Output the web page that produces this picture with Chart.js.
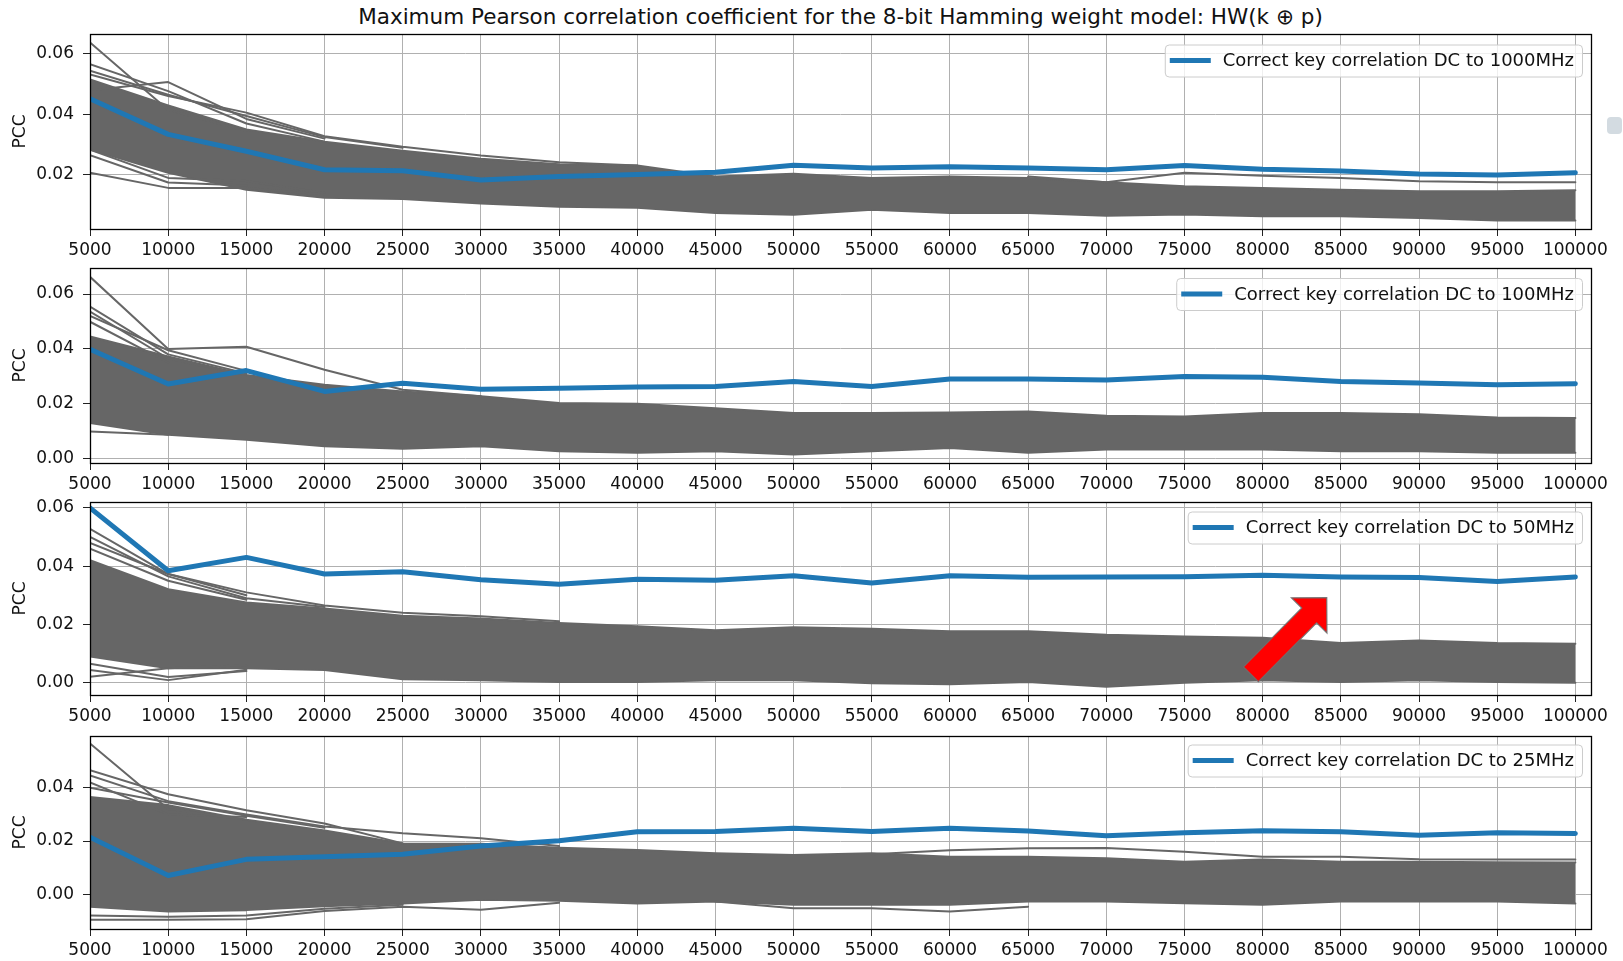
<!DOCTYPE html>
<html>
<head>
<meta charset="utf-8">
<script src="https://cdn.jsdelivr.net/npm/chart.js@4.4.1/dist/chart.umd.min.js"></script>
<style>
  html, body { margin: 0; padding: 0; background: #fff; }
  body { width: 1623px; height: 961px; position: relative; overflow: hidden; font-family: "DejaVu Sans", sans-serif; }
  #title { position: absolute; left: 90px; width: 1501px; top: 3px; text-align: center; font-size: 21.5px; line-height: 28px; color: #111; white-space: nowrap; }
  canvas { position: absolute; left: 0; }
  #blob { position: absolute; left: 1607px; top: 117px; width: 15px; height: 17px; background: #d3dbe1; border-radius: 4px; }
</style>
</head>
<body>
<div id="title">Maximum Pearson correlation coefficient for the 8-bit Hamming weight model: HW(k ⊕ p)</div>
<canvas id="c1"></canvas>
<canvas id="c2"></canvas>
<canvas id="c3"></canvas>
<canvas id="c4"></canvas>
<div id="blob"></div>
<script>
// Number of traces used for each correlation estimate (x axis)
const traceCounts = [5000, 10000, 15000, 20000, 25000, 30000, 35000, 40000, 45000, 50000,
                     55000, 60000, 65000, 70000, 75000, 80000, 85000, 90000, 95000, 100000];

// Correct key correlation, one series per filter bandwidth
const correctKey1000 = [0.0452, 0.0334, 0.0278, 0.0217, 0.0214, 0.0183, 0.0195, 0.0201, 0.0209, 0.0232,
                        0.0223, 0.0227, 0.0223, 0.0217, 0.0231, 0.0219, 0.0213, 0.0203, 0.0200, 0.0207];
const correctKey100  = [0.0399, 0.0272, 0.0321, 0.0245, 0.0275, 0.0253, 0.0257, 0.0261, 0.0263, 0.0281,
                        0.0263, 0.0290, 0.0290, 0.0287, 0.0299, 0.0297, 0.0281, 0.0276, 0.0269, 0.0273];
const correctKey50   = [0.0600, 0.0384, 0.0430, 0.0373, 0.0381, 0.0353, 0.0338, 0.0355, 0.0352, 0.0367,
                        0.0342, 0.0367, 0.0362, 0.0363, 0.0364, 0.0369, 0.0363, 0.0361, 0.0347, 0.0363];
const correctKey25   = [0.0214, 0.0070, 0.0131, 0.0141, 0.0150, 0.0181, 0.0201, 0.0235, 0.0236, 0.0248,
                        0.0236, 0.0248, 0.0238, 0.0220, 0.0231, 0.0239, 0.0235, 0.0222, 0.0231, 0.0228];

// Wrong key guesses: upper / lower edge of the dense bundle
const wrong1000Upper = [0.0516, 0.0430, 0.0350, 0.0310, 0.0280, 0.0253, 0.0235, 0.0231, 0.0195, 0.0204,
                        0.0190, 0.0195, 0.0190, 0.0176, 0.0162, 0.0157, 0.0151, 0.0146, 0.0146, 0.0149];
const wrong1000Lower = [0.0284, 0.0207, 0.0151, 0.0124, 0.0120, 0.0105, 0.0095, 0.0091, 0.0074, 0.0068,
                        0.0085, 0.0074, 0.0074, 0.0065, 0.0069, 0.0063, 0.0063, 0.0057, 0.0049, 0.0049];
const wrong100Upper  = [0.0445, 0.0372, 0.0305, 0.0269, 0.0245, 0.0227, 0.0203, 0.0200, 0.0184, 0.0166,
                        0.0166, 0.0168, 0.0172, 0.0156, 0.0154, 0.0166, 0.0166, 0.0162, 0.0150, 0.0148];
const wrong100Lower  = [0.0130, 0.0087, 0.0069, 0.0045, 0.0036, 0.0045, 0.0027, 0.0021, 0.0027, 0.0015,
                        0.0027, 0.0039, 0.0021, 0.0033, 0.0033, 0.0033, 0.0027, 0.0027, 0.0021, 0.0021];
const wrong50Upper   = [0.0420, 0.0321, 0.0275, 0.0255, 0.0230, 0.0220, 0.0205, 0.0194, 0.0180, 0.0190,
                        0.0185, 0.0177, 0.0177, 0.0165, 0.0159, 0.0154, 0.0136, 0.0145, 0.0136, 0.0134];
const wrong50Lower   = [0.0090, 0.0050, 0.0050, 0.0044, 0.0012, 0.0009, 0.0003, 0.0003, 0.0009, 0.0009,
                        -0.0002, -0.0005, 0.0003, -0.0014, 0.0000, 0.0009, 0.0003, 0.0009, 0.0003, 0.0000];
const wrong25Upper   = [0.0366, 0.0335, 0.0280, 0.0240, 0.0191, 0.0190, 0.0175, 0.0166, 0.0154, 0.0147,
                        0.0154, 0.0141, 0.0141, 0.0135, 0.0122, 0.0130, 0.0122, 0.0122, 0.0120, 0.0119];
const wrong25Lower   = [-0.0047, -0.0065, -0.0060, -0.0045, -0.0035, -0.0021, -0.0025, -0.0035, -0.0028, -0.0040,
                        -0.0040, -0.0040, -0.0028, -0.0028, -0.0034, -0.0040, -0.0028, -0.0028, -0.0028, -0.0035];

// Individual wrong-key traces that leave the bundle (null = hidden inside it)
const wrong1000Stray = [
  [0.0638, 0.0415, 0.0345],
  [0.0480, 0.0507, 0.0385, 0.0320],
  [0.0566, 0.0477, 0.0370, 0.0310],
  [0.0545, 0.0465, 0.0395, 0.0325, 0.0290],
  [0.0532, 0.0461, 0.0406, 0.0328, 0.0293, 0.0264, 0.0242, 0.0231],
  [0.0207, 0.0157, 0.0157, 0.0135],
  [0.0283, 0.0190, 0.0180, 0.0140],
  [0.0265, 0.0175, 0.0165],
  [null, null, null, null, null, null, null, null, null, null, null, null,
   0.0195, 0.0176, 0.0207, 0.0197, 0.0190, 0.0179, 0.0176, 0.0176]
];
const wrong100Stray = [
  [0.0663, 0.0400, 0.0408, 0.0324, 0.0251, 0.0227],
  [0.0554, 0.0380, 0.0310],
  [0.0536, 0.0365, 0.0305],
  [0.0520, 0.0395, 0.0320],
  [0.0499, 0.0350],
  [0.0099, 0.0087]
];
const wrong50Stray = [
  [0.0528, 0.0373, 0.0310, 0.0265, 0.0240, 0.0228, 0.0211],
  [0.0500, 0.0365, 0.0290, 0.0260],
  [0.0480, 0.0373, 0.0300],
  [0.0460, 0.0350, 0.0285],
  [0.0044, 0.0009, 0.0045],
  [0.0021, 0.0050, 0.0060],
  [0.0065, 0.0020, 0.0040]
];
const wrong25Stray = [
  [0.0567, 0.0320, 0.0280],
  [0.0466, 0.0376, 0.0316, 0.0266, 0.0191],
  [0.0447, 0.0350, 0.0300, 0.0255, 0.0229, 0.0210, 0.0181],
  [0.0420, 0.0300, 0.0290],
  [0.0400, 0.0345, 0.0295, 0.0250],
  [-0.0096, -0.0096, -0.0094, -0.0063, -0.0047, -0.0059, -0.0032],
  [-0.0080, -0.0085, -0.0080, -0.0055, -0.0040],
  [null, null, null, null, null, null, null, null, null, null,
   0.0150, 0.0165, 0.0173, 0.0174, 0.0160, 0.0141, 0.0141, 0.0131, 0.0130, 0.0130],
  [null, null, null, null, null, null, null, null, -0.0028, -0.0053, -0.0053, -0.0065, -0.0047]
];

// Y tick labels per panel
const yTicks1000 = [0.02, 0.04, 0.06];
const yTicks100  = [0.00, 0.02, 0.04, 0.06];
const yTicks50   = [0.00, 0.02, 0.04, 0.06];
const yTicks25   = [0.00, 0.02, 0.04];

// Legend captions
const legendLabels = ['Correct key correlation DC to 1000MHz', 'Correct key correlation DC to 100MHz',
                      'Correct key correlation DC to 50MHz', 'Correct key correlation DC to 25MHz'];

// Arrow marking the gap between correct key and wrong keys (data coordinates, 50MHz panel)
const arrowTail = { x: 79250, y: 0.0029 };
const arrowTip  = { x: 84100, y: 0.0292 };

const BLUE = '#1f77b4';
const GRAY = '#666666';
const FONT = '"DejaVu Sans", sans-serif';

Chart.defaults.font.family = FONT;
Chart.defaults.font.size = 17;
Chart.defaults.color = '#111';

const toPoints = vals => vals.map((v, i) => ({ x: traceCounts[i], y: v }));

// Black frame around each plot area
const frame = {
  id: 'frame',
  afterDraw(chart) {
    const { ctx, chartArea: a } = chart;
    ctx.save();
    ctx.strokeStyle = '#000';
    ctx.lineWidth = 1.3;
    ctx.strokeRect(Math.round(a.left) + 0.5, Math.round(a.top) + 0.5,
                   Math.round(a.right - a.left), Math.round(a.bottom - a.top));
    ctx.restore();
  }
};

// Legend box in the upper right corner of the plot area
const keyLegend = {
  id: 'keyLegend',
  afterDatasetsDraw(chart, args, opts) {
    if (!opts.text) return;
    const { ctx, chartArea: a } = chart;
    ctx.save();
    ctx.font = '18px ' + FONT;
    const tw = ctx.measureText(opts.text).width;
    const h = 32, padL = 5, lineLen = 41, gap = 12, padR = 8;
    const w = padL + lineLen + gap + tw + padR;
    const x = a.right - 9 - w, y = a.top + (opts.offset || 10);
    ctx.beginPath();
    ctx.roundRect(x + 0.5, y + 0.5, w, h, 4);
    ctx.fillStyle = 'rgba(255,255,255,0.8)';
    ctx.fill();
    ctx.strokeStyle = '#cccccc';
    ctx.lineWidth = 1;
    ctx.stroke();
    ctx.beginPath();
    ctx.moveTo(x + padL, y + h / 2);
    ctx.lineTo(x + padL + lineLen, y + h / 2);
    ctx.strokeStyle = BLUE;
    ctx.lineWidth = 5;
    ctx.stroke();
    ctx.fillStyle = '#111';
    ctx.textBaseline = 'middle';
    ctx.textAlign = 'left';
    ctx.fillText(opts.text, x + padL + lineLen + gap, y + h / 2 + 1);
    ctx.restore();
  }
};

// Red block arrow annotation
const arrowNote = {
  id: 'arrowNote',
  afterDraw(chart, args, opts) {
    if (!opts.from) return;
    const xs = chart.scales.x, ys = chart.scales.y, ctx = chart.ctx;
    const x0 = xs.getPixelForValue(opts.from.x), y0 = ys.getPixelForValue(opts.from.y);
    const x1 = xs.getPixelForValue(opts.to.x), y1 = ys.getPixelForValue(opts.to.y);
    const len = Math.hypot(x1 - x0, y1 - y0);
    const ux = (x1 - x0) / len, uy = (y1 - y0) / len;
    const nx = -uy, ny = ux;
    const sw = 21 / 2, hw = 50 / 2, hl = 25;
    const bx = x1 - ux * hl, by = y1 - uy * hl;
    ctx.save();
    ctx.beginPath();
    ctx.moveTo(x0 + nx * sw, y0 + ny * sw);
    ctx.lineTo(bx + nx * sw, by + ny * sw);
    ctx.lineTo(bx + nx * hw, by + ny * hw);
    ctx.lineTo(x1, y1);
    ctx.lineTo(bx - nx * hw, by - ny * hw);
    ctx.lineTo(bx - nx * sw, by - ny * sw);
    ctx.lineTo(x0 - nx * sw, y0 - ny * sw);
    ctx.closePath();
    ctx.fillStyle = '#ff0000';
    ctx.fill();
    ctx.strokeStyle = 'rgba(110,110,110,0.9)';
    ctx.lineWidth = 1.2;
    ctx.stroke();
    ctx.restore();
  }
};

const panels = [
  { id: 'c1', top: 34,  height: 195, yMin: 0.0021,  yMax: 0.0666, yTicks: yTicks1000,
    key: correctKey1000, upper: wrong1000Upper, lower: wrong1000Lower, stray: wrong1000Stray, label: legendLabels[0], lgOff: 10.5 },
  { id: 'c2', top: 268, height: 195, yMin: -0.0016, yMax: 0.0695, yTicks: yTicks100,
    key: correctKey100, upper: wrong100Upper, lower: wrong100Lower, stray: wrong100Stray, label: legendLabels[1], lgOff: 10 },
  { id: 'c3', top: 502, height: 193, yMin: -0.0042, yMax: 0.0620, yTicks: yTicks50,
    key: correctKey50, upper: wrong50Upper, lower: wrong50Lower, stray: wrong50Stray, label: legendLabels[2], lgOff: 9.5, arrow: true },
  { id: 'c4', top: 736, height: 193, yMin: -0.0131, yMax: 0.0595, yTicks: yTicks25,
    key: correctKey25, upper: wrong25Upper, lower: wrong25Lower, stray: wrong25Stray, label: legendLabels[3], lgOff: 8.5 }
];

// Top padding must exceed the half-height of the top tick label plus its padding
const PAD_TOP = 22, X_AXIS_H = 32, Y_AXIS_W = 90, PAD_RIGHT = 32;

panels.forEach(p => {
  const canvas = document.getElementById(p.id);
  const H = PAD_TOP + p.height + X_AXIS_H;
  canvas.width = 1623; canvas.height = H;
  canvas.style.width = '1623px'; canvas.style.height = H + 'px';
  canvas.style.top = (p.top - PAD_TOP) + 'px';

  const datasets = [
    { data: toPoints(p.key), borderColor: BLUE, borderWidth: 5, order: 0 },
    { data: toPoints(p.upper), borderColor: GRAY, backgroundColor: GRAY, borderWidth: 2, fill: '+1', order: 2 },
    { data: toPoints(p.lower), borderColor: GRAY, borderWidth: 2, fill: false, order: 2 }
  ];
  p.stray.forEach(s => datasets.push({ data: toPoints(s), borderColor: GRAY, borderWidth: 2, fill: false, order: 1 }));

  new Chart(canvas, {
    type: 'line',
    data: { datasets },
    plugins: [frame, keyLegend, arrowNote],
    options: {
      responsive: false,
      animation: false,
      devicePixelRatio: 1,
      layout: { padding: { top: PAD_TOP, right: PAD_RIGHT, bottom: 0, left: 0 } },
      elements: { point: { radius: 0 }, line: { tension: 0, borderJoinStyle: 'round', borderCapStyle: 'round' } },
      spanGaps: false,
      plugins: {
        legend: { display: false },
        tooltip: { enabled: false },
        keyLegend: { text: p.label, offset: p.lgOff },
        arrowNote: p.arrow ? { from: arrowTail, to: arrowTip } : {}
      },
      scales: {
        x: {
          type: 'linear', min: 5000, max: 101000,
          afterBuildTicks: s => { s.ticks = traceCounts.map(v => ({ value: v })); },
          afterFit: s => { s.height = X_AXIS_H; },
          ticks: { callback: v => String(v), padding: 4, maxRotation: 0, autoSkip: false, color: '#111' },
          grid: { color: '#b0b0b0', lineWidth: 1, tickLength: 7, tickColor: '#222', drawTicks: true },
          border: { display: false }
        },
        y: {
          type: 'linear', min: p.yMin, max: p.yMax,
          afterBuildTicks: s => { s.ticks = p.yTicks.map(v => ({ value: v })); },
          afterFit: s => { s.width = Y_AXIS_W; },
          ticks: { callback: v => v.toFixed(2), padding: 9, color: '#111' },
          grid: { color: '#b0b0b0', lineWidth: 1, tickLength: 7, tickColor: '#222', drawTicks: true },
          border: { display: false },
          title: { display: true, text: 'PCC', font: { size: 17 }, padding: { top: 10, bottom: 0 }, color: '#111' }
        }
      }
    }
  });
});
</script>
</body>
</html>
